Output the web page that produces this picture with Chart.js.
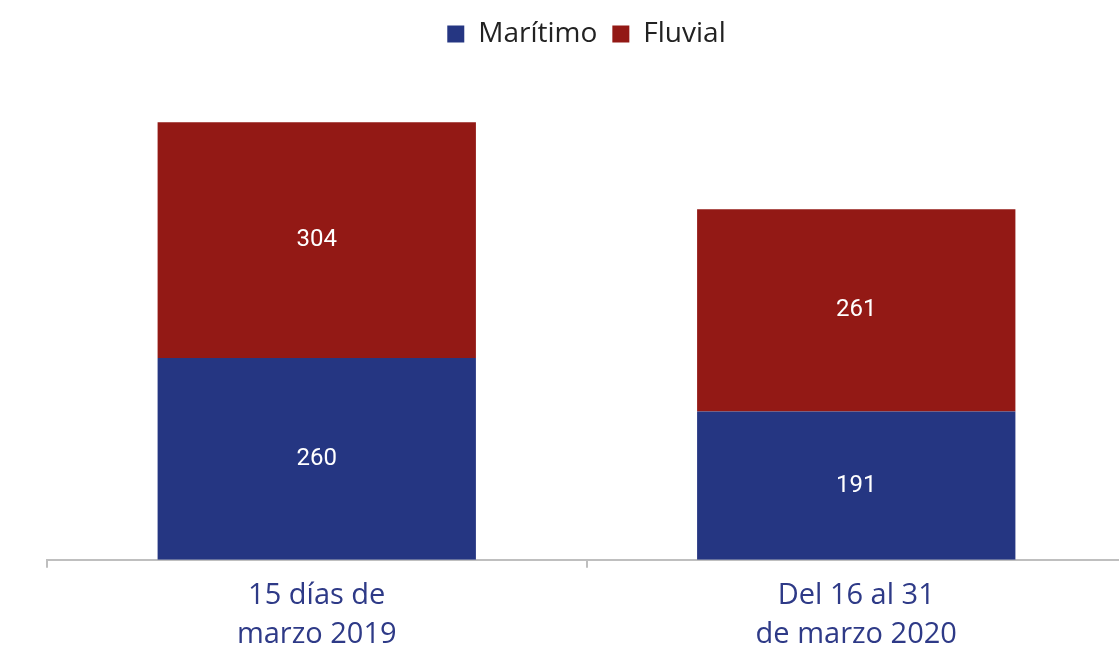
<!DOCTYPE html>
<html><head><meta charset="utf-8">
<script src="https://cdn.jsdelivr.net/npm/chart.js@4/dist/chart.umd.min.js"></script>
<style>html,body{margin:0;padding:0;overflow:hidden;background:#fff}#wrap{position:absolute;left:0;top:0;width:1126px;height:662px}</style>
</head><body><div id="wrap"><canvas id="c"></canvas></div>
<script>
const categories = [["15 días de","marzo 2019"],["Del 16 al 31","de marzo 2020"]];
const maritimo = [260, 191];
const fluvial = [304, 261];
const seriesNames = ["Marítimo","Fluvial"];
const colors = ["#253682","#931915"];

const labelPlugin = {
  id:'vals',
  afterDatasetsDraw(chart){
    const ctx = chart.ctx;
    ctx.save();
    ctx.fillStyle='#ffffff';
    ctx.font='24px Roboto';
    ctx.textAlign='center';ctx.textBaseline='middle';
    chart.data.datasets.forEach((ds,i)=>{
      chart.getDatasetMeta(i).data.forEach((bar,j)=>{
        const p = bar.getProps(['x','y','base'],true);
        ctx.fillText(String(ds.data[j]), p.x, (p.y+p.base)/2);
      });
    });
    ctx.restore();
  }
};

new Chart(document.getElementById('c'),{
  type:'bar',
  data:{labels:categories,datasets:[
    {label:seriesNames[0],data:maritimo,backgroundColor:colors[0]},
    {label:seriesNames[1],data:fluvial,backgroundColor:colors[1]}
  ]},
  options:{
    responsive:true,maintainAspectRatio:false,animation:false,
    layout:{padding:{left:47,right:0,top:5,bottom:0}},
    plugins:{
      legend:{position:'top',labels:{font:{family:'Open Sans',size:28},color:'#222222',boxWidth:17,boxHeight:17,padding:15}},
      tooltip:{enabled:false}
    },
    datasets:{bar:{barPercentage:0.59,categoryPercentage:1}},
    scales:{
      x:{stacked:true,
        grid:{display:true,drawOnChartArea:false,drawTicks:true,tickLength:8,color:'#bfbfbf',lineWidth:2},
        border:{display:true,color:'#bfbfbf',width:2},
        ticks:{color:'#2e3a87',font:{family:'Open Sans',size:29,lineHeight:1.35},padding:8}},
      y:{stacked:true,display:false,min:0,max:647}
    }
  },
  plugins:[labelPlugin]
});
</script></body></html>
